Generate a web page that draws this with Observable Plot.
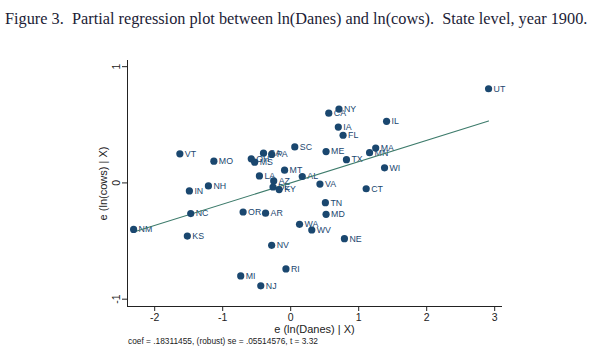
<!DOCTYPE html>
<html>
<head>
<meta charset="utf-8">
<script src="https://cdn.jsdelivr.net/npm/d3@7"></script>
<script src="https://cdn.jsdelivr.net/npm/@observablehq/plot@0.6"></script>
<style>
  html, body { margin: 0; padding: 0; background: #fff; }
  #wrap { position: relative; width: 596px; height: 362px; overflow: hidden; }
  #title { position: absolute; left: 5px; top: 9px; white-space: nowrap;
           font-family: "Liberation Serif", "DejaVu Serif", serif; font-size: 16px; color: #1c1c36; }
  #chart { position: absolute; left: 0; top: 44px; }
  #note { position: absolute; left: 128px; top: 336px; white-space: nowrap;
          font-family: "Liberation Sans", Arial, sans-serif; font-size: 8px; color: #222; }
</style>
</head>
<body>
<div id="wrap">
  <div id="title">Figure 3.&nbsp; Partial regression plot between ln(Danes) and ln(cows).&nbsp; State level, year 1900.</div>
  <div id="chart"></div>
  <div id="note">coef = .18311455, (robust) se = .05514576, t = 3.32</div>
</div>
<script>
const states = ["UT","NY","CA","IL","IA","FL","SC","ME","MA","MN","TX","WI","CT","VA","AL","MT","LA","AZ","DE","KY","VT","MO","OH","MS","GA","PA","IN","NH","NC","NM","KS","OR","AR","TN","MD","WA","WV","NE","NV","RI","MI","NJ"];
const eDanes = [2.91,0.71,0.56,1.41,0.70,0.77,0.06,0.52,1.25,1.16,0.82,1.38,1.11,0.43,0.17,-0.09,-0.46,-0.25,-0.26,-0.17,-1.63,-1.13,-0.58,-0.53,-0.40,-0.28,-1.49,-1.21,-1.47,-2.31,-1.52,-0.70,-0.37,0.51,0.52,0.13,0.31,0.79,-0.28,-0.07,-0.735,-0.44];
const eCows = [0.81,0.635,0.60,0.53,0.48,0.41,0.31,0.27,0.30,0.26,0.20,0.13,-0.05,-0.01,0.055,0.11,0.06,0.017,-0.035,-0.057,0.25,0.187,0.207,0.178,0.256,0.245,-0.069,-0.026,-0.264,-0.40,-0.457,-0.25,-0.26,-0.17,-0.27,-0.356,-0.405,-0.48,-0.537,-0.74,-0.80,-0.885];
const coef = 0.18311455;
const xTicks = [-2,-1,0,1,2,3];
const yTicks = [-1,0,1];
const xLabel = "e (ln(Danes) | X)";
const yLabel = "e (ln(cows) | X)";

const data = states.map((s,i) => ({state: s, x: eDanes[i], y: eCows[i]}));
const xmin = d3.min(eDanes), xmax = d3.max(eDanes);
const fit = [{x: xmin, y: coef * xmin}, {x: xmax, y: coef * xmax}];

const navy = "#1a476f";
const green = "#3d7b6b";

const chart = Plot.plot({
  width: 596,
  height: 293,
  marginLeft: 127,
  marginRight: 95,
  marginTop: 16,
  marginBottom: 31,
  style: {fontFamily: "'Liberation Sans', Arial, sans-serif", background: "white", color: "#222"},
  x: {domain: [-2.40, 3.10]},
  y: {domain: [-1.063, 1.053]},
  marks: [
    Plot.axisX({ticks: xTicks, tickSize: 5, tickPadding: 2, fontSize: 10.5, tickFormat: d => String(d), label: null}),
    Plot.axisY({ticks: yTicks, tickSize: 5, tickPadding: 3, fontSize: 10.5, tickRotate: -90, tickFormat: d => String(d), label: null}),
    Plot.text([xLabel], {frameAnchor: "bottom", textAnchor: "middle", lineAnchor: "middle", dy: 23, fontSize: 11, fill: "#222"}),
    Plot.text([yLabel], {frameAnchor: "left", textAnchor: "middle", lineAnchor: "middle", rotate: -90, dx: -24, fontSize: 11, fill: "#222"}),
    Plot.frame({anchor: "left", stroke: "#222"}),
    Plot.frame({anchor: "bottom", stroke: "#222"}),
    Plot.text(data, {x: "x", y: "y", text: "state", dx: 5, textAnchor: "start", fill: navy, fontSize: 8.8}),
    Plot.line(fit, {x: "x", y: "y", stroke: green, strokeWidth: 1.1}),
    Plot.dot(data, {x: "x", y: "y", r: 3.6, fill: navy, stroke: "none"})
  ]
});
document.getElementById("chart").appendChild(chart);

// fit title and note to their widths in the reference
function fitWidth(el, base, target) {
  const w = el.getBoundingClientRect().width;
  el.style.fontSize = (base * target / w).toFixed(2) + "px";
}
fitWidth(document.getElementById("title"), 16, 583);
fitWidth(document.getElementById("note"), 8, 190);
</script>
</body>
</html>
